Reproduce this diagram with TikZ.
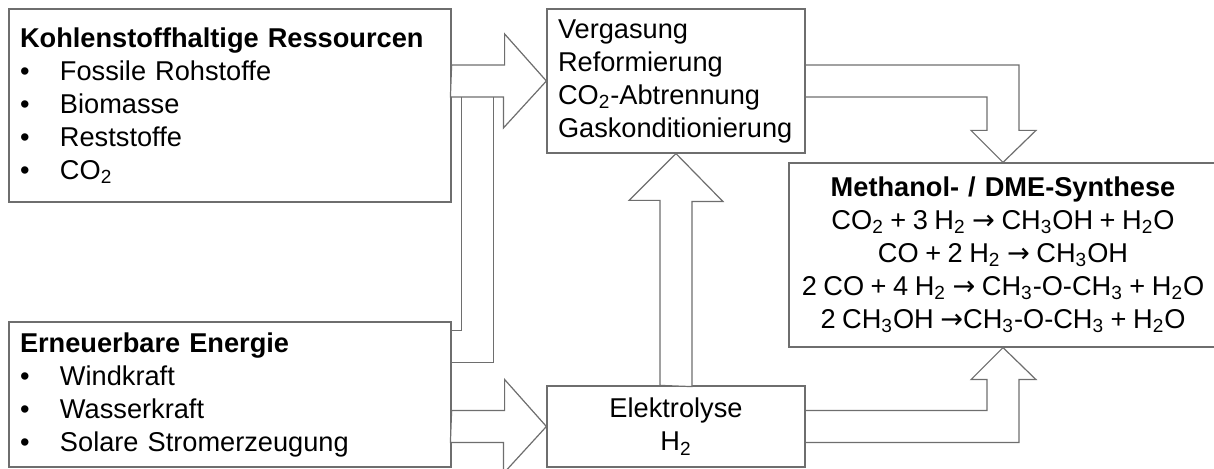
\documentclass[tikz,border=0pt]{standalone}
\usepackage{fontspec}
\setmainfont{Liberation Sans}
\newfontfamily\arrowfont{DejaVu Sans}
\usetikzlibrary{calc}

\definecolor{linegray}{RGB}{110,110,110}
\newcommand{\bul}{\makebox[20pt][l]{•}}
\newcommand{\sub}[1]{\textsubscript{#1}}
\newcommand{\yields}{{\arrowfont →}}

\tikzset{
	box/.style={draw=linegray, line width=0.6pt, inner ysep=0pt,
		font=\fontsize{13.6pt}{16.5pt}\selectfont},
	flow/.style={draw=linegray, line width=0.6pt, line join=miter},
}

\begin{document}
\begin{tikzpicture}[x=0.5pt,y=-0.5pt]
\useasboundingbox (0,0) rectangle (1214,469);

%Kohlenstoffhaltige Ressourcen
\node [box,
	minimum width=221pt,
	minimum height=96.5pt,
	text width=210pt, inner xsep=5.5pt, align=left,
]  (res)at (230,105.5) {\textbf{Kohlenstoffhaltige Ressourcen}\\
	\bul Fossile Rohstoffe\\ \bul Biomasse\\ \bul Reststoffe\\ \bul CO\sub{2}};

%Erneuerbare Energie
\node [box,
	minimum width=221pt,
	minimum height=72.5pt,
	text width=210pt, inner xsep=5.5pt, align=left,
]  (ee)at (230,394.5) {\textbf{Erneuerbare Energie}\\
	\bul Windkraft\\ \bul Wasserkraft\\ \bul Solare Stromerzeugung};

%Vergasung
\node [box,
	minimum width=129pt,
	minimum height=72pt,
	text width=118pt, inner xsep=5.5pt, align=left,
]  (verg)at (676,81) {Vergasung\\ Reformierung\\ CO\sub{2}-Abtrennung\\ Gaskonditionierung};

%Elektrolyse
\node [box,
	minimum width=129pt,
	minimum height=40.5pt,
	text width=118pt, inner xsep=5.5pt, align=center,
]  (elek)at (676,426.5) {Elektrolyse\\ H\sub{2}};

%Synthese
\node [box,
	minimum width=214pt,
	minimum height=92pt,
	text width=214pt, inner xsep=0pt, align=center,
]  (syn)at (1003,255) {\textbf{Methanol- / DME-Synthese}\\ \spaceskip=0.24em\relax
	CO\sub{2} + 3 H\sub{2} \yields{} CH\sub{3}OH + H\sub{2}O\\
	CO + 2 H\sub{2} \yields{} CH\sub{3}OH\\
	2 CO + 4 H\sub{2} \yields{} CH\sub{3}-O-CH\sub{3} + H\sub{2}O\\
	2 CH\sub{3}OH \yields{}CH\sub{3}-O-CH\sub{3} + H\sub{2}O};

%Ressourcen -> Vergasung
\draw[flow, fill=white] (res.east |- verg.west) ++(0,-16) -- ++(53,0) -- ++(0,-31)
	-- (verg.west) -- ++(-43,47) -- ++(0,-31) -- ++(-53,0) -- cycle;

%Energie -> Vergasung
\draw[flow] ($(res.east |- verg.west)+(10,16)$) |- ($(ee.north east)+(0,9)$);
\draw[flow] ($(res.east |- verg.west)+(42,16)$) |- ($(ee.north east)+(0,41)$);

%Energie -> Elektrolyse
\draw[flow, fill=white] (ee.east |- elek.west) ++(0,-16) -- ++(53,0) -- ++(0,-31)
	-- (elek.west) -- ++(-43,47) -- ++(0,-31) -- ++(-53,0) -- cycle;

%Elektrolyse -> Vergasung
\draw[flow, fill=white] (elek.north) ++(-16,0) -- ++(0,-185) -- ++(-31,0)
	-- (verg.south) -- ++(47,48) -- ++(-31,0) -- ++(0,185) -- cycle;

%Vergasung -> Synthese
\draw[flow] ($(verg.east)+(0,-16)$) -| ($(syn.north)+(16,-32)$) -- ++(17,0)
	-- (syn.north) -- ++(-32,-32) -- ++(16,0) |- ($(verg.east)+(0,16)$);

%Elektrolyse -> Synthese
\draw[flow] ($(elek.east)+(0,16)$) -| ($(syn.south)+(16,32)$) -- ++(17,0)
	-- (syn.south) -- ++(-32,32) -- ++(16,0) |- ($(elek.east)+(0,-16)$);

\end{tikzpicture}
\end{document}
